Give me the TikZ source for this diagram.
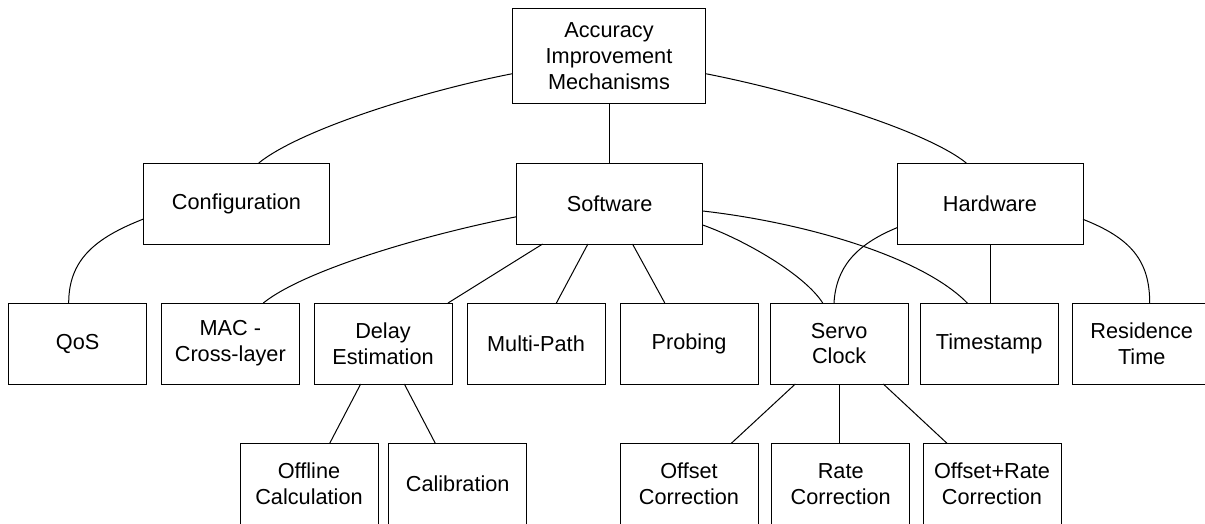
\documentclass[tikz,border=0pt]{standalone}
\usepackage{fontspec}
\setmainfont{Liberation Sans}
\begin{document}
\begin{tikzpicture}[x=1pt,y=-1pt,
  box/.style={draw=black, line width=1pt, inner sep=0pt, outer sep=0pt, align=center,
    font=\fontsize{21.7}{25.7}\selectfont, minimum width=138pt, minimum height=81pt},
  midbox/.style={box, minimum width=186pt},
  link/.style={draw=black, line width=1pt}]
\useasboundingbox (0,0) rectangle (1205,523);
\clip (0,0) rectangle (1205,523);
% level 0
\node[box, minimum width=193.4pt, minimum height=95pt] (top) at (609,56.2) {Accuracy\\Improvement\\Mechanisms};
% level 1
\node[midbox] (config) at (236.5,203.5) {Configuration};
\node[midbox] (software) at (609.7,203.5) {Software};
\node[midbox] (hardware) at (990,203.5) {Hardware};
% level 2
\node[box] (qos) at (77.7,343.5) {QoS};
\node[box] (mac) at (230.3,343.5) {MAC -\\Cross-layer};
\node[box] (delay) at (383,343.5) {Delay\\Estimation};
\node[box] (multi) at (536,343.5) {Multi-Path};
\node[box] (probing) at (689,343.5) {Probing};
\node[box] (servo) at (839.2,343.5) {Servo\\Clock};
\node[box] (timestamp) at (989.2,343.5) {Timestamp};
\node[box] (residence) at (1141.7,343.5) {Residence\\Time};
% level 3
\node[box] (offline) at (309,483.8) {Offline\\Calculation};
\node[box] (calib) at (457.7,483.8) {Calibration};
\node[box] (offc) at (689,483.8) {Offset\\Correction};
\node[box] (ratec) at (840.7,483.8) {Rate\\Correction};
\node[box] (orc) at (992,483.8) {Offset+Rate\\Correction};
% connectors
\draw[link] ([yshift=-17.5pt]top.west) .. controls +(-92,18) and +(41,-33) .. ([xshift=22.2pt]config.north);
\draw[link] (top.south) -- (top.south |- software.north);
\draw[link] ([yshift=-17.5pt]top.east) .. controls +(92,18) and +(-41,-33) .. ([xshift=-23.7pt]hardware.north);
\draw[link] ([yshift=-15.5pt]config.west) .. controls +(-48.7,19) and +(0,-43) .. ([xshift=-9pt]qos.north);
\draw[link] ([yshift=-13.2pt]software.west) .. controls +(-92,18) and +(41,-33) .. ([xshift=33pt]mac.north);
\draw[link] ([xshift=-67.1pt]software.south) -- ([xshift=65pt]delay.north);
\draw[link] ([xshift=-21.8pt]software.south) -- ([xshift=20.4pt]multi.north);
\draw[link] ([xshift=22.8pt]software.south) -- ([xshift=-24.2pt]probing.north);
\draw[link] ([yshift=-21.5pt]software.east) .. controls +(42.3,15) and +(-17.7,-28) .. ([xshift=-16.5pt]servo.north);
\draw[link] ([yshift=-7.5pt]software.east) .. controls +(97.3,11) and +(-47.3,-48) .. ([xshift=-21.9pt]timestamp.north);
\draw[link] ([yshift=-24.2pt]hardware.west) .. controls +(-42,17.3) and +(2,-35) .. ([xshift=-5.2pt]servo.north);
\draw[link] (hardware.south) -- (hardware.south |- timestamp.north);
\draw[link] ([yshift=-15.8pt]hardware.east) .. controls +(47.3,18.7) and +(0,-43) .. ([xshift=8pt]residence.north);
\draw[link] ([xshift=-22.3pt]delay.south) -- ([xshift=20.7pt]offline.north);
\draw[link] ([xshift=21.3pt]delay.south) -- ([xshift=-22.4pt]calib.north);
\draw[link] ([xshift=-43.9pt]servo.south) -- ([xshift=42.3pt]offc.north);
\draw[link] (servo.south) -- (servo.south |- ratec.north);
\draw[link] ([xshift=44.1pt]servo.south) -- ([xshift=-45pt]orc.north);
\end{tikzpicture}
\end{document}
